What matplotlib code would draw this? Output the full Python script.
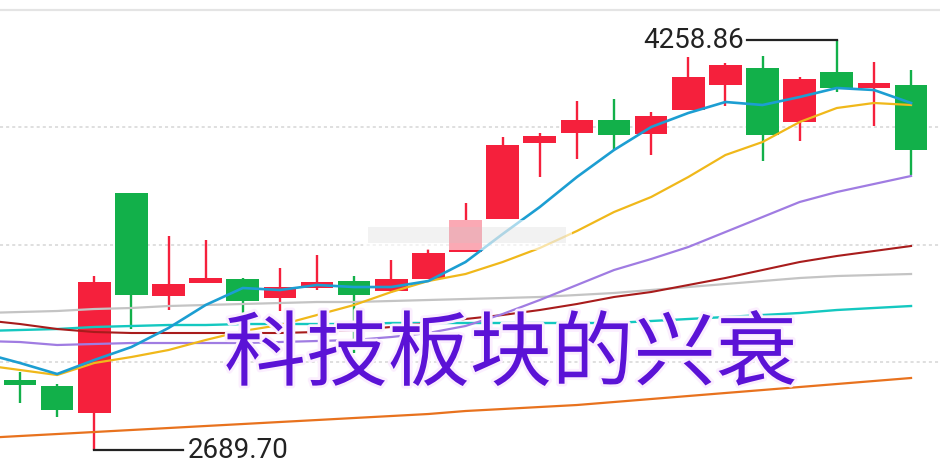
import matplotlib
matplotlib.use("Agg")
import matplotlib.pyplot as plt
import matplotlib.patheffects as pe
import numpy as np

# K线数据 (开, 收, 高, 低)
opens = [2957.61, 2934.64, 2831.31, 3673.30, 3279.09, 3328.85, 3344.16, 3271.44, 3309.71, 3336.50,
         3298.23, 3344.16, 3447.49, 3573.79, 3864.66, 3902.93, 3952.68, 3899.10, 3990.96, 4086.64,
         4151.70, 3945.03, 4136.39, 4075.15, 4086.64]
closes = [2938.47, 2842.79, 3332.67, 3282.92, 3325.02, 3347.98, 3259.96, 3313.54, 3332.67, 3282.92,
          3344.16, 3443.66, 3569.96, 3857.00, 3891.45, 3952.68, 3895.28, 3967.99, 4117.25, 4163.18,
          3895.28, 4109.60, 4075.15, 4094.29, 3837.87]
highs = [2988.22, 2942.30, 3355.64, 3673.30, 3508.73, 3493.42, 3347.98, 3386.26, 3436.01, 3355.64,
         3416.87, 3458.97, 3635.02, 3887.62, 3902.93, 4025.40, 4033.06, 3983.30, 4193.80, 4170.84,
         4197.63, 4117.25, 4258.86, 4174.66, 4144.04]
lows = [2869.58, 2816.00, 2689.70, 3152.79, 3225.51, 3328.85, 3179.59, 3221.68, 3302.06, 3060.94,
        3290.57, 3344.16, 3447.49, 3573.79, 3734.53, 3803.42, 3837.87, 3818.73, 3990.96, 4006.26,
        3795.77, 3872.31, 4059.85, 3929.72, 3742.19]

# 均线 (从第 -1 根开始)
ma5 = [3060.9, 3022.7, 2980.6, 3034.2, 3083.9, 3156.6, 3244.7, 3309.7, 3302.1, 3321.2, 3313.5,
       3313.5, 3336.5, 3409.2, 3516.4, 3619.7, 3734.5, 3837.9, 3925.9, 3979.5, 4021.6, 4010.1,
       4040.7, 4075.2, 4067.5, 4017.8]
ma10 = [3015.0, 2995.9, 2976.7, 3022.7, 3045.6, 3072.4, 3110.7, 3145.1, 3168.1, 3206.4, 3244.7,
        3294.4, 3336.5, 3363.3, 3409.2, 3462.8, 3527.9, 3600.6, 3658.0, 3734.5, 3818.7, 3868.5,
        3945.0, 3998.6, 4017.8, 4010.1]
ma20 = [3106.9, 3103.0, 3091.6, 3095.4, 3099.2, 3099.2, 3099.2, 3099.2, 3103.0, 3106.9, 3110.7,
        3122.2, 3137.5, 3164.3, 3210.2, 3263.8, 3321.2, 3378.6, 3420.7, 3466.6, 3524.0, 3581.4,
        3638.9, 3677.1, 3707.7, 3738.4]
ma30 = [3187.2, 3171.9, 3152.8, 3141.3, 3137.5, 3137.5, 3137.5, 3137.5, 3137.5, 3141.3, 3149.0,
        3160.5, 3175.8, 3191.1, 3206.4, 3225.5, 3248.5, 3275.3, 3294.4, 3321.2, 3348.0, 3378.6,
        3409.2, 3432.2, 3451.3, 3470.5]
ma60 = [3214.0, 3217.9, 3221.7, 3229.3, 3233.2, 3240.8, 3244.7, 3248.5, 3252.3, 3256.1, 3256.1,
        3260.0, 3263.8, 3267.6, 3271.4, 3275.3, 3282.9, 3290.6, 3302.1, 3313.5, 3325.0, 3336.5,
        3348.0, 3355.6, 3359.5, 3363.3]
ma120 = [3145.1, 3149.0, 3152.8, 3160.5, 3164.3, 3168.1, 3168.1, 3171.9, 3171.9, 3171.9, 3171.9,
         3175.8, 3175.8, 3175.8, 3175.8, 3175.8, 3175.8, 3175.8, 3183.4, 3191.1, 3198.7, 3206.4,
         3214.0, 3225.5, 3233.2, 3240.8]
ma250 = [2735.6, 2743.3, 2750.9, 2758.6, 2766.3, 2773.9, 2781.6, 2789.2, 2796.9, 2804.5, 2812.2,
         2819.8, 2827.5, 2839.0, 2846.6, 2854.3, 2861.9, 2873.4, 2884.9, 2896.4, 2907.9, 2919.3,
         2930.8, 2942.3, 2953.8, 2965.3]

grid_levels = [3924.0, 3474.2, 3026.5]
top_level = 4373.7
title_text = '科技板块的兴衰'

# 图像制作
fig = plt.figure(figsize=(9.4, 4.7), dpi=100)
ax = fig.add_axes([0, 0, 1, 1])
ax.set_xlim(-0.539, 24.78)
ax.set_ylim(2613.2, 4411.95)
ax.axis('off')

red = '#f5203c'
green = '#12b04a'

x = np.arange(len(opens))
o = np.array(opens)
c = np.array(closes)
colors = [red if cc >= oo else green for oo, cc in zip(o, c)]

# 网格线
for g in grid_levels:
    ax.axhline(g, color='#d6d6d6', lw=1.1, ls=(0, (2, 2)), zorder=1)
ax.axhline(top_level, color='#e4e4e4', lw=1.6, zorder=1)

# 影线 + 实体
ax.vlines(x, lows, highs, colors=colors, lw=1.7, zorder=2)
ax.bar(x, np.abs(c - o), bottom=np.minimum(o, c), width=0.88, color=colors, zorder=2)

# 均线
xm = np.arange(-1, len(opens))
ax.plot(xm, ma250, color='#e8721e', lw=1.6, zorder=3)
ax.plot(xm, ma120, color='#14c8c0', lw=1.7, zorder=3)
ax.plot(xm, ma60, color='#c4c4c4', lw=1.6, zorder=3)
ax.plot(xm, ma30, color='#a81c1c', lw=1.5, zorder=3)
ax.plot(xm, ma20, color='#a07ce2', lw=1.6, zorder=3)
ax.plot(xm, ma10, color='#f0b81a', lw=1.6, zorder=3)
ax.plot(xm, ma5, color='#1c9ed2', lw=1.9, zorder=3)

# 最高/最低标注
hi_i = int(np.argmax(highs))
lo_i = int(np.argmin(lows))
ax.plot([hi_i, 19.58], [highs[hi_i], highs[hi_i]], color='#222222', lw=1.6, zorder=4)
ax.text(19.5, highs[hi_i], f'{highs[hi_i]:.2f}', ha='right', va='center',
        fontsize=20, family='Roboto', color='#222222', zorder=4)
ax.plot([lo_i, 4.39], [lows[lo_i], lows[lo_i]], color='#222222', lw=1.6, zorder=4)
ax.text(4.53, lows[lo_i], f'{lows[lo_i]:.2f}', ha='left', va='center',
        fontsize=20, family='Roboto', color='#222222', zorder=4)

# 模糊水印
ax.add_patch(plt.Rectangle((0.386, 0.468), 0.223, 0.064, transform=ax.transAxes,
                           facecolor='white', alpha=0.62, edgecolor='none', zorder=5))
ax.add_patch(plt.Rectangle((0.392, 0.482), 0.21, 0.034, transform=ax.transAxes,
                           facecolor='#c8c8c8', alpha=0.22, edgecolor='none', zorder=5))

# 大标题
ax.text(0.5436, 0.243, title_text, transform=ax.transAxes, ha='center', va='center',
        fontsize=59, color='#5b12d6', family=['Noto Sans CJK SC', 'DejaVu Sans'], zorder=6,
        path_effects=[pe.withStroke(linewidth=4, foreground='#fbeefe')])

plt.savefig('out.png', dpi=100)
